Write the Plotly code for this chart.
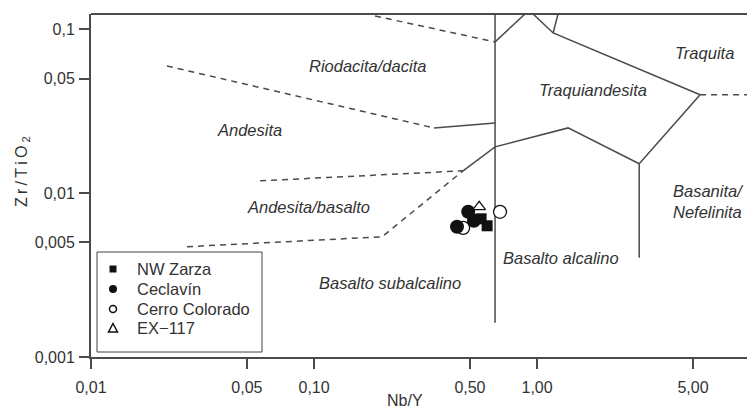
import numpy as np
import plotly.graph_objects as go

# ---- sample data (Nb/Y, Zr/TiO2) ----
nw_zarza_x = [0.561, 0.597]
nw_zarza_y = [0.00697, 0.00632]
ceclavin_x = [0.491, 0.4375, 0.521]
ceclavin_y = [0.00769, 0.00623, 0.00678]
cerro_x = [0.682, 0.466]
cerro_y = [0.00769, 0.00614]
ex117_x = [0.550]
ex117_y = [0.00825]

# ---- diagram boundaries (solid) ----
solid_lines = [
    ([0.648, 0.648], [0.124, 0.00162]),
    ([0.648, 0.883], [0.0837, 0.124]),
    ([0.959, 1.18, 5.38], [0.124, 0.0949, 0.0398]),
    ([1.242, 1.18], [0.124, 0.0949]),
    ([5.38, 2.87, 2.87], [0.0398, 0.0151, 0.00403]),
    ([0.4657, 0.648, 1.377, 2.87], [0.01368, 0.01915, 0.0250, 0.0151]),
    ([0.345, 0.648], [0.0250, 0.0268]),
]
# ---- diagram boundaries (dashed) ----
dashed_lines = [
    ([0.1877, 0.648], [0.1205, 0.0837]),
    ([0.0219, 0.345], [0.0597, 0.0250]),
    ([0.0573, 0.4657], [0.01189, 0.01368]),
    ([0.02694, 0.2018, 0.4657], [0.00471, 0.00541, 0.01368]),
    ([5.38, 10.0], [0.0398, 0.0398]),
]

# ---- field labels ----
label_text = ["Riodacita/dacita", "Andesita", "Traquiandesita", "Traquita",
              "Andesita/basalto", "Basanita/<br>Nefelinita", "Basalto alcalino",
              "Basalto subalcalino"]
label_x = [0.173, 0.0516, 1.78, 5.61, 0.094, 3.99, 1.28, 0.2195]
label_y = [0.0597, 0.0243, 0.0427, 0.0717, 0.00825, 0.00885, 0.00403, 0.00284]
label_anchor = ["center", "center", "center", "center", "center", "left", "center", "center"]

legend_names = ["NW Zarza", "Ceclavín", "Cerro Colorado", "EX\u2212117"]

x_ticks = [0.01, 0.05, 0.10, 0.50, 1.00, 5.00]
x_tick_text = ["0,01", "0,05", "0,10", "0,50", "1,00", "5,00"]
y_ticks = [0.001, 0.005, 0.01, 0.05, 0.1]
y_tick_text = ["0,001", "0,005", "0,01", "0,05", "0,1"]

LINE = "#4a4a4a"
TEXT = "#333333"
FONT = "Liberation Sans"

# plot area in page pixels (page has an 8px body margin)
PX0, PX1, PY0, PY1 = 91, 755, 14, 357


def px(x):
    return (x - PX0) / (PX1 - PX0)


def py(y):
    return (PY1 - y) / (PY1 - PY0)


fig = go.Figure()

for xs, ys in solid_lines:
    fig.add_trace(go.Scatter(x=xs, y=ys, mode="lines", showlegend=False, hoverinfo="skip",
                             line=dict(color=LINE, width=1.5)))
for xs, ys in dashed_lines:
    fig.add_trace(go.Scatter(x=xs, y=ys, mode="lines", showlegend=False, hoverinfo="skip",
                             line=dict(color=LINE, width=1.5, dash="6px,5px")))

# data markers
fig.add_trace(go.Scatter(x=cerro_x, y=cerro_y, mode="markers", name=legend_names[2], showlegend=False,
                         marker=dict(symbol="circle", size=13, color="white",
                                     line=dict(color="#111", width=1.3))))
fig.add_trace(go.Scatter(x=nw_zarza_x, y=nw_zarza_y, mode="markers", name=legend_names[0], showlegend=False,
                         marker=dict(symbol="square", size=11, color="#111")))
fig.add_trace(go.Scatter(x=ceclavin_x, y=ceclavin_y, mode="markers", name=legend_names[1], showlegend=False,
                         marker=dict(symbol="circle", size=14, color="#111")))
fig.add_trace(go.Scatter(x=ex117_x, y=ex117_y, mode="markers", name=legend_names[3], showlegend=False,
                         marker=dict(symbol="triangle-up", size=11, color="white",
                                     line=dict(color="#111", width=1.3))))

for t, x, y, a in zip(label_text, label_x, label_y, label_anchor):
    fig.add_annotation(x=np.log10(x), y=np.log10(y), text="<i>" + t + "</i>", showarrow=False,
                       xanchor=a, yanchor="middle", align="left",
                       font=dict(family=FONT, size=16.5, color=TEXT))

# axis titles
fig.add_annotation(xref="paper", yref="paper", x=px(405), y=py(401),
                   text="Nb/Y", showarrow=False, xanchor="center", yanchor="middle",
                   font=dict(family=FONT, size=16, color=TEXT))
fig.add_annotation(xref="paper", yref="paper", x=px(22), y=py(172),
                   text="Z\u2009r\u2009/\u2009T\u2009i\u2009O\u2009<sub>2</sub>", textangle=-90, showarrow=False,
                   xanchor="center", yanchor="middle",
                   font=dict(family=FONT, size=16, color=TEXT))

# top frame line
fig.add_shape(type="line", xref="paper", yref="paper", x0=0, x1=1, y0=1, y1=1,
              line=dict(color=LINE, width=2))

# ---- legend (drawn box) ----
fig.add_shape(type="rect", xref="paper", yref="paper", x0=px(97), x1=px(262), y0=py(352), y1=py(252),
              line=dict(color="#444", width=1), fillcolor="white", layer="above")
rows = [269, 289, 309, 328]
sx = 113
fig.add_shape(type="rect", xref="paper", yref="paper", x0=px(sx - 3.5), x1=px(sx + 3.5),
              y0=py(rows[0] + 3.5), y1=py(rows[0] - 3.5), line=dict(width=0), fillcolor="#111", layer="above")
fig.add_shape(type="circle", xref="paper", yref="paper", x0=px(sx - 4), x1=px(sx + 4),
              y0=py(rows[1] + 4), y1=py(rows[1] - 4), line=dict(width=0), fillcolor="#111", layer="above")
fig.add_shape(type="circle", xref="paper", yref="paper", x0=px(sx - 3.5), x1=px(sx + 3.5),
              y0=py(rows[2] + 3.5), y1=py(rows[2] - 3.5), line=dict(color="#111", width=1.5),
              fillcolor="white", layer="above")
tri = "M {:.5f},{:.5f} L {:.5f},{:.5f} L {:.5f},{:.5f} Z".format(
    px(sx - 4.5), py(rows[3] + 4), px(sx + 4.5), py(rows[3] + 4), px(sx), py(rows[3] - 4.5))
fig.add_shape(type="path", xref="paper", yref="paper", path=tri,
              line=dict(color="#111", width=1.5), fillcolor="white", layer="above")
for name, r in zip(legend_names, rows):
    fig.add_annotation(xref="paper", yref="paper", x=px(135), y=py(r), text=name, showarrow=False,
                       xanchor="left", yanchor="middle",
                       font=dict(family=FONT, size=16.5, color=TEXT))

axis_common = dict(showline=True, linecolor=LINE, linewidth=2, ticks="outside", ticklen=10,
                   tickwidth=1.5, tickcolor=LINE, showgrid=False, zeroline=False,
                   tickfont=dict(family=FONT, size=16, color=TEXT))
fig.update_xaxes(type="log", range=[-2, 0.977], tickvals=x_ticks, ticktext=x_tick_text,
                 ticklabelstandoff=5, **axis_common)
fig.update_yaxes(type="log", range=[-3, -0.907], tickvals=y_ticks, ticktext=y_tick_text,
                 ticklabelstandoff=1, **axis_common)

fig.update_layout(
    width=747, height=402,
    margin=dict(l=PX0 - 8, r=0, t=PY0 - 8, b=402 + 8 - PY1),
    paper_bgcolor="white", plot_bgcolor="white",
    showlegend=False,
)

fig.write_html("out.html")
